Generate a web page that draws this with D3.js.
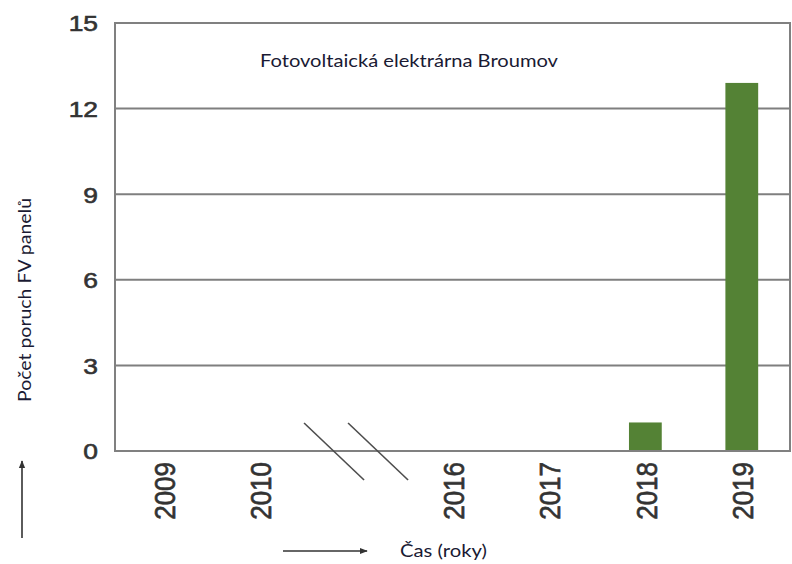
<!DOCTYPE html>
<html>
<head>
<meta charset="utf-8">
<script src="https://cdn.jsdelivr.net/npm/d3@7"></script>
<style>
  html, body { margin: 0; padding: 0; background: #fff; }
  svg { display: block; }
</style>
</head>
<body>
<div id="chart"></div>
<script>
// chart data
const years = ['2009', '2010', 'break', '2016', '2017', '2018', '2019'];
const failures = [0, 0, null, 0, 0, 1, 12.9];
const yTicks = [0, 3, 6, 9, 12, 15];

const chartTitle = 'Fotovoltaická elektrárna Broumov';
const yLabel = 'Počet poruch FV panelů';
const xLabel = 'Čas (roky)';

const width = 792, height = 564;
const margin = { top: 23, right: 2, bottom: 113, left: 115 };

const svg = d3.select('#chart').append('svg')
  .attr('width', width)
  .attr('height', height);

const defs = svg.append('defs');
defs.append('marker')
  .attr('id', 'arrow')
  .attr('viewBox', '0 0 10 10')
  .attr('refX', 9).attr('refY', 5)
  .attr('markerWidth', 5).attr('markerHeight', 5)
  .attr('orient', 'auto')
  .append('path')
  .attr('d', 'M0,1 L10,5 L0,9 Z')
  .attr('fill', '#333');

const x = d3.scaleBand()
  .domain(years)
  .range([margin.left, width - margin.right])
  .paddingInner(0.66)
  .paddingOuter(0.33);

const y = d3.scaleLinear()
  .domain([0, 15])
  .range([height - margin.bottom, margin.top]);

// gridlines
svg.append('g')
  .selectAll('line')
  .data(yTicks.filter(d => d > 0 && d < 15))
  .join('line')
  .attr('x1', margin.left).attr('x2', width - margin.right)
  .attr('y1', d => y(d)).attr('y2', d => y(d))
  .attr('stroke', '#7f7f7f')
  .attr('stroke-width', 2);

// bars
const data = years.map((yr, i) => ({ year: yr, value: failures[i] }))
  .filter(d => d.value);

svg.append('g')
  .selectAll('rect')
  .data(data)
  .join('rect')
  .attr('x', d => x(d.year))
  .attr('y', d => y(d.value))
  .attr('width', x.bandwidth())
  .attr('height', d => y(0) - y(d.value))
  .attr('fill', '#548235');

// plot frame
svg.append('rect')
  .attr('x', margin.left)
  .attr('y', margin.top)
  .attr('width', width - margin.left - margin.right)
  .attr('height', y(0) - margin.top)
  .attr('fill', 'none')
  .attr('stroke', '#808080')
  .attr('stroke-width', 2);

// axis break marks in the gap
const bc = x('break') + x.bandwidth() / 2;
svg.append('g')
  .selectAll('line')
  .data([-22, 22])
  .join('line')
  .attr('x1', d => bc + d - 30).attr('y1', y(0) - 28)
  .attr('x2', d => bc + d + 30).attr('y2', y(0) + 29)
  .attr('stroke', '#4d4d4d')
  .attr('stroke-width', 1.6);

// y axis tick labels
const yAxis = svg.append('g')
  .attr('transform', `translate(${margin.left},0)`)
  .call(d3.axisLeft(y).tickValues(yTicks).tickSize(0).tickFormat(d3.format('d')));
yAxis.select('.domain').remove();
yAxis.selectAll('text')
  .attr('x', 0)
  .attr('dy', '0.36em')
  .attr('transform', 'translate(-17,0) scale(1.2,1)')
  .style('font-family', '"Liberation Sans", Arial, sans-serif')
  .style('font-size', '22px')
  .style('fill', '#333')
  .style('stroke', '#333')
  .style('stroke-width', 0.6);

// x axis tick labels (rotated)
svg.append('g')
  .selectAll('text')
  .data(years.filter(d => d !== 'break'))
  .join('text')
  .attr('transform', d => `translate(${x(d) + x.bandwidth() / 2 + 1},${y(0) + 11}) scale(1.12,1) rotate(-90)`)
  .attr('text-anchor', 'end')
  .attr('dy', '0.36em')
  .style('font-family', '"Liberation Sans", Arial, sans-serif')
  .style('font-size', '26px')
  .style('fill', '#333')
  .style('stroke', '#333')
  .style('stroke-width', 0.6)
  .text(d => d);

// title inside plot
svg.append('text')
  .attr('x', 260)
  .attr('y', 67)
  .attr('textLength', 298)
  .attr('lengthAdjust', 'spacingAndGlyphs')
  .style('font-family', 'Lato, "Open Sans", sans-serif')
  .style('font-size', '18px')
  .style('fill', '#1a1a33')
  .text(chartTitle);

// y axis label
svg.append('text')
  .attr('transform', 'translate(31,402) rotate(-90)')
  .attr('textLength', 204)
  .attr('lengthAdjust', 'spacingAndGlyphs')
  .style('font-family', 'Lato, "Open Sans", sans-serif')
  .style('font-size', '17px')
  .style('fill', '#1a1a33')
  .text(yLabel);

// x axis label
svg.append('text')
  .attr('x', 400)
  .attr('y', 557)
  .attr('textLength', 87)
  .attr('lengthAdjust', 'spacingAndGlyphs')
  .style('font-family', 'Lato, "Open Sans", sans-serif')
  .style('font-size', '17px')
  .style('fill', '#1a1a33')
  .text(xLabel);

// arrows
svg.append('line')
  .attr('x1', 22).attr('y1', 538)
  .attr('x2', 22).attr('y2', 461)
  .attr('stroke', '#333').attr('stroke-width', 1.6)
  .attr('marker-end', 'url(#arrow)');

svg.append('line')
  .attr('x1', 283).attr('y1', 551)
  .attr('x2', 367).attr('y2', 551)
  .attr('stroke', '#333').attr('stroke-width', 1.6)
  .attr('marker-end', 'url(#arrow)');
</script>
</body>
</html>
